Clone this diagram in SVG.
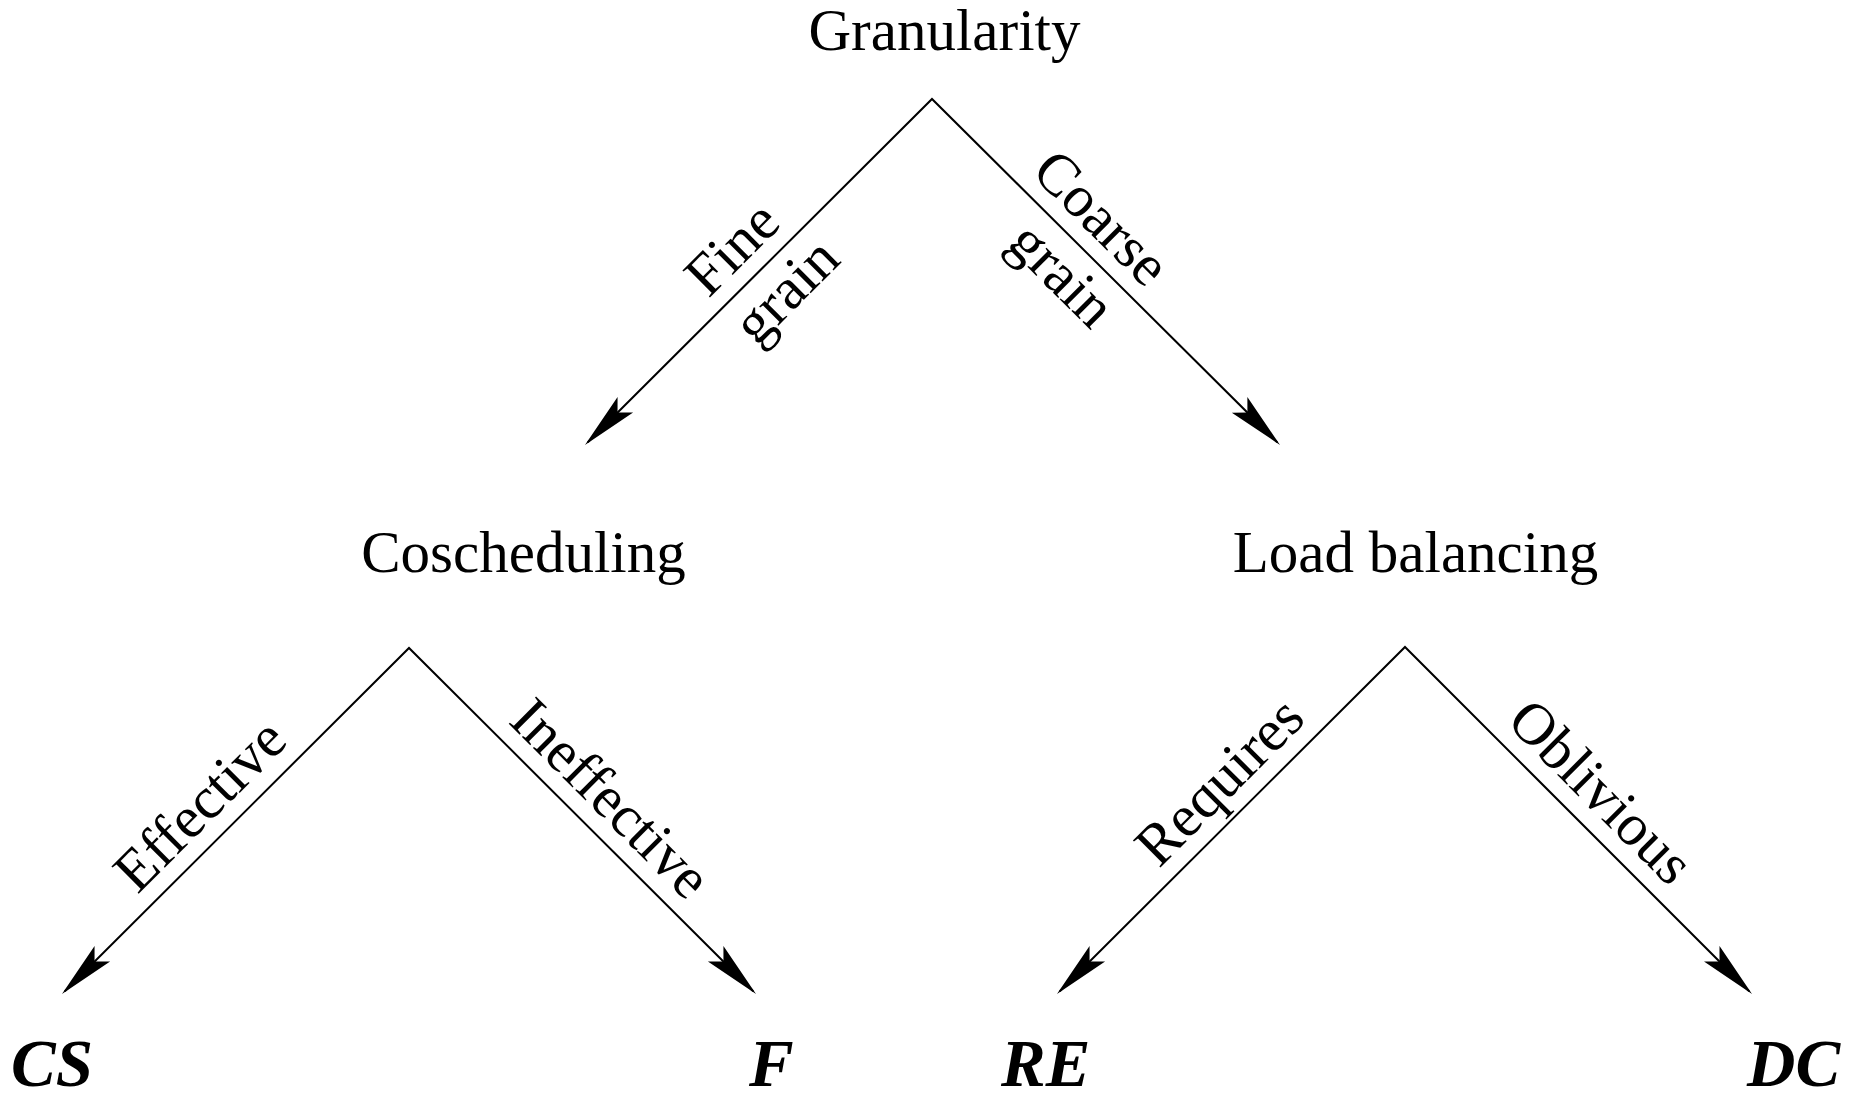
<svg xmlns="http://www.w3.org/2000/svg" width="1868" height="1101" viewBox="0 0 1868 1101">
<style>
.n{font-family:"Liberation Serif","Times New Roman",serif;font-size:59px;fill:#000}
.m{text-anchor:middle}
.lbl{font-family:"Liberation Serif","Times New Roman",serif;font-size:59px;fill:#000;text-anchor:middle}
.leaf{font-family:"Liberation Serif","Times New Roman",serif;font-size:67px;font-weight:bold;font-style:italic;fill:#000}
.c{fill:none;stroke:#000;stroke-width:2;stroke-linejoin:miter;stroke-miterlimit:10}
</style>
<defs>
<marker id="ah" markerUnits="userSpaceOnUse" markerWidth="60" markerHeight="24" viewBox="0 0 60 24" refX="53" refY="12" orient="auto-start-reverse">
<path d="M57,12 L0,1 L11,12 L0,23 Z" fill="#000"/>
</marker>
</defs>
<rect width="1868" height="1101" fill="#fff"/>
<g id="connectors">
<path id="e-gran" class="c" d="M587.8,442.2 L932,99 L1277.2,442.2" marker-start="url(#ah)" marker-end="url(#ah)"/>
<path id="e-cos" class="c" d="M64.8,991.2 L409,648 L753.2,991.2" marker-start="url(#ah)" marker-end="url(#ah)"/>
<path id="e-lb" class="c" d="M1059.8,991.2 L1405,647 L1749.2,991.2" marker-start="url(#ah)" marker-end="url(#ah)"/>
<g id="edge-labels">
<g transform="rotate(-45)"><text class="lbl" x="342" y="712.5">Fine</text><text class="lbl" x="350" y="780.5">grain</text></g>
<g transform="rotate(45)"><text class="lbl" x="933" y="-605.7">Coarse</text><text class="lbl" x="945" y="-537.7">grain</text></g>
<g transform="rotate(-45)"><text class="lbl" x="-428" y="730">Effective</text></g>
<g transform="rotate(45)"><text class="lbl" x="996.5" y="152">Ineffective</text></g>
<g transform="rotate(-45)"><text class="lbl" x="310" y="1434">Requires</text></g>
<g transform="rotate(45)"><text class="lbl" x="1692" y="-553">Oblivious</text></g>
</g>
</g>
<g id="granularity"><text class="n m" x="944.5" y="50">Granularity</text></g>
<g id="coscheduling"><text class="n m" x="523.5" y="572">Coscheduling</text></g>
<g id="load-balancing"><text class="n m" x="1415.5" y="572">Load balancing</text></g>
<g id="cs"><text class="leaf" x="11" y="1086">CS</text></g>
<g id="f"><text class="leaf" x="749" y="1086">F</text></g>
<g id="re"><text class="leaf" x="1001" y="1086">RE</text></g>
<g id="dc"><text class="leaf" x="1747" y="1086">DC</text></g>
</svg>
